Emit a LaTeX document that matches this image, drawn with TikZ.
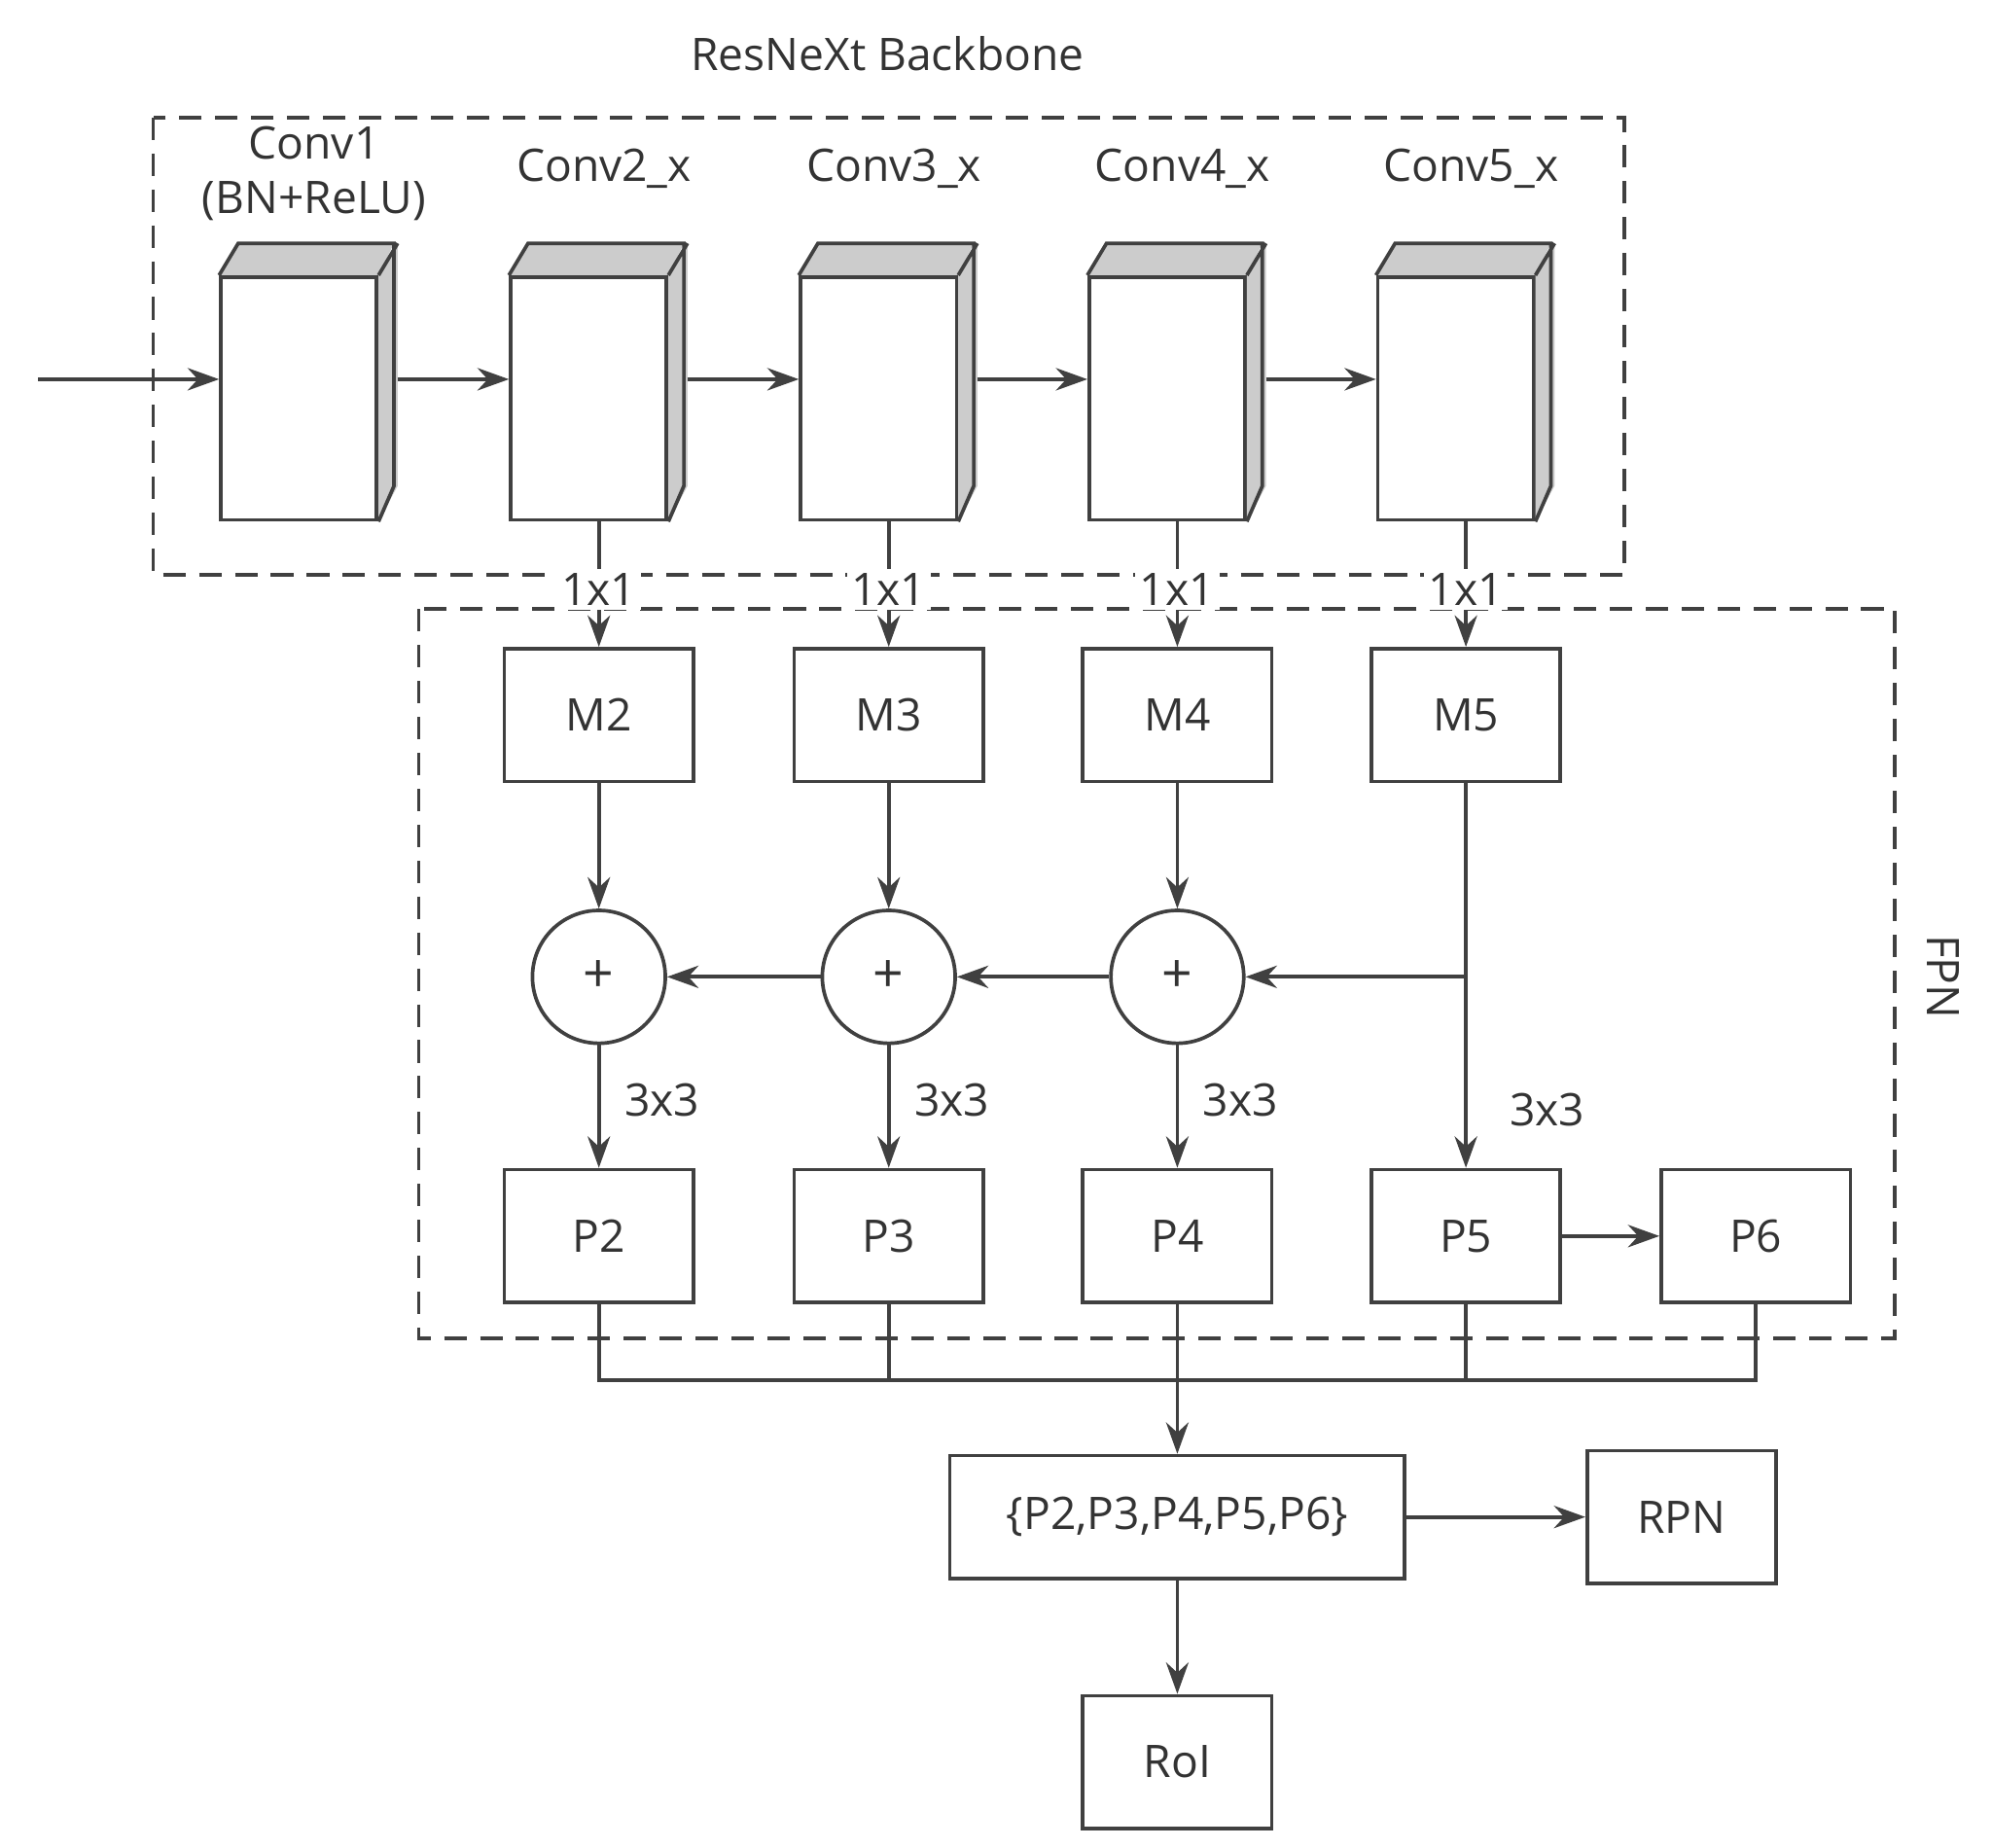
\documentclass[tikz,border=0pt]{standalone}
\usepackage{fontspec}
\setmainfont{Open Sans}
\usetikzlibrary{positioning,arrows.meta}

\tikzset{
  box/.style={draw,thick,minimum width=1.48cm,minimum height=1.04cm,font=\fontsize{10}{12}\selectfont},
  blk/.style={draw,thick,fill=white,minimum width=1.22cm,minimum height=1.9cm},
  sum/.style={draw,thick,circle,minimum size=1.04cm,font=\fontsize{12}{12}\selectfont},
  arr/.style={thick,-{Stealth[length=7pt,width=5pt]}},
  lbl/.style={font=\fontsize{10}{12}\selectfont},
  grp/.style={draw,thick,dashed,dash pattern=on 5pt off 3pt}
}

\begin{document}
\begin{tikzpicture}[x=0.01cm,y=-0.01cm,color=black!75,text=black!80]
\useasboundingbox (0,0) rectangle (1560,1447);

% backbone
\node[lbl] (title) at (695,42) {ResNeXt Backbone};
\draw[grp] (120,92) rectangle (1272,450);
\foreach \i/\x/\t in {1/234/{Conv1\\(BN+ReLU)},2/461/Conv2\_x,3/688/Conv3\_x,4/914/Conv4\_x,5/1140/Conv5\_x}{
  \node[blk] (c\i) at (\x,312) {};
  \fill[black!20] (c\i.north west) -- ++(15,-25) -- ++(122,0) -- (c\i.north east) -- cycle;
  \fill[black!20] (c\i.north east) -- ++(15,-25) -- ++(0,190) -- (c\i.south east) -- cycle;
  \draw[thick] (c\i.north west) -- ++(15,-25) -- ++(122,0) -- ++(0,190) -- (c\i.south east)
    (c\i.north east) -- ++(15,-25);
  \node[lbl,align=center,anchor=south] at (\x+12,\ifnum\i=1 185\else 160\fi) {\t};
}
\coordinate (in) at (30,297);
\draw[arr] (in) -- (in -| c1.west);
\foreach \i/\j in {1/2,2/3,3/4,4/5}
  \draw[arr] ([xshift=0.15cm]c\i.east |- in) -- (c\j.west |- in);

% FPN
\draw[grp] (328,477) rectangle (1484,1048);
\node[lbl,rotate=-90] (fpn) at (1522,765) {FPN};
\foreach \i/\x in {2/469,3/696,4/922,5/1148}{
  \node[box] (m\i) at (\x,560) {M\i};
  \node[box] (p\i) at (\x,968) {P\i};
  \coordinate (t\i) at (\x,407);
  \draw[arr] (t\i) -- node[lbl,fill=white,inner sep=1pt,pos=0.55] {1x1} (m\i);
}
\node[box] (p6) at (1375,968) {P6};
\foreach \i/\x in {2/469,3/696,4/922}{
  \node[sum] (s\i) at (\x,765) {+};
  \draw[arr] (m\i) -- (s\i);
  \draw[arr] (s\i) -- node[lbl,right=2pt,pos=0.45] {3x3} (p\i);
}
\draw[arr] (m5) -- node[lbl,right=6pt,pos=0.85] {3x3} (p5);
\coordinate (br) at (1148,765);
\draw[arr] (br) -- (s4);
\draw[arr] (s4) -- (s3);
\draw[arr] (s3) -- (s2);
\draw[arr] (p5) -- (p6);

% heads
\node[box,minimum width=3.56cm,minimum height=0.96cm] (all) at (922,1188) {\{P2,P3,P4,P5,P6\}};
\node[box] (rpn) at (1317,1188) {RPN};
\node[box] (roi) at (922,1380) {RoI};
\coordinate (bus) at (922,1081);
\draw[thick] (p2.south) |- (p6.south |- bus) -- (p6.south);
\foreach \i in {3,4,5} \draw[thick] (p\i.south) -- (p\i.south |- bus);
\draw[arr] (bus) -- (all);
\draw[arr] (all) -- (rpn);
\draw[arr] (all) -- (roi);
\end{tikzpicture}
\end{document}
